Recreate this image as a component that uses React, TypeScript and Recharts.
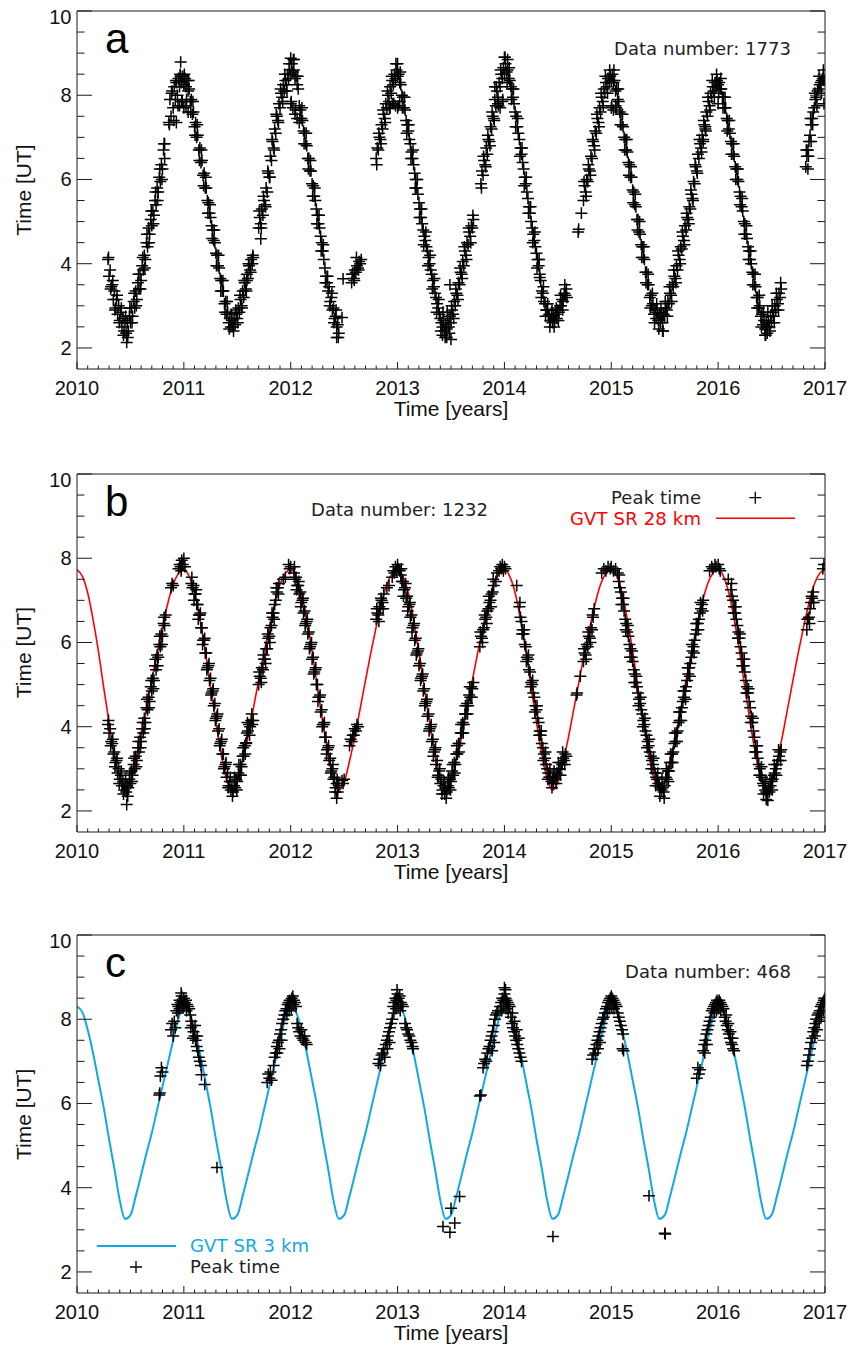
import React from 'react';
import { ComposedChart, Scatter, Line, XAxis, YAxis } from 'recharts';

// ---------- axes ----------
const X_DOMAIN: [number, number] = [2010, 2017];
const Y_DOMAIN: [number, number] = [1.5, 10];
const YEAR_LABELS = [2010, 2011, 2012, 2013, 2014, 2015, 2016, 2017];
const Y_LABELS = [2, 4, 6, 8, 10];
const X_TICKS = Array.from({ length: 71 }, (_, i) => Math.round((2010 + i * 0.1) * 10) / 10);
const Y_TICKS = Array.from({ length: 17 }, (_, i) => 2 + i * 0.5);

// ---------- panel a : peak time ----------
// runs of samples: [start year, values]; main runs every 0.01 yr, second runs every 0.02 yr
type Seg = [number, number[]];
const A_SEGMENTS: Seg[] = [
  [2010.29, [4.1,3.7,3.85,3.45,3.5,3.15,3.35,2.95,3.15,2.8,3.0,2.65,2.85,2.5,2.7,2.4,2.65,2.35,2.6,2.4,2.75,2.6,2.95,2.75,3.1,2.95,3.35,3.15,3.55,3.4,3.75,3.6,3.95,3.85,4.2,4.1,4.5,4.4,4.85,4.7,5.05,4.9,5.25,5.15,5.5,5.4,5.8,5.7,6.05,5.95,6.35,6.25,6.7,6.5]],
  [2010.86, [7.35,7.9,7.5,8.1,7.7,8.2,7.9,8.3,8.0,8.4,8.2,8.45,8.3,8.45,8.25,8.4,8.2,8.35,8.1,8.15,7.85,7.9,7.55,7.6,7.25,7.35,7.0,7.05,6.7,6.75,6.4,6.45,6.1,6.15,5.8,5.8,5.5,5.45,5.2,5.1,4.9,4.8,4.55,4.5,4.25,4.2,3.95,3.9,3.65,3.6,3.35,3.35,3.05,3.1,2.8,2.85,2.6,2.7,2.5,2.65,2.5,2.7,2.55,2.8,2.7,2.95,2.85,3.15,3.0,3.35,3.2,3.55,3.4,3.75,3.65,3.95,3.85,4.1,4.0,4.15]],
  [2011.70, [4.85,5.1,4.95,5.3,5.15,5.5,5.4,5.8,5.7,6.15,6.05,6.55,6.45,6.9,6.75,7.2,7.1,7.5,7.4,7.8,7.7,8.05,7.95,8.25,8.1,8.35,8.25,8.5,8.4,8.6,8.5,8.75,8.55,8.6,8.4,8.45,8.25,8.15,7.75,7.65,7.45,7.4,7.15,7.1,6.85,6.8,6.5,6.5,6.2,6.2,5.9,5.85,5.6,5.5,5.3,5.15,4.95,4.85,4.65,4.5,4.3,4.1,3.9,3.7,3.55,3.35,3.45,3.1,3.2,2.9,2.95,2.7,2.75,2.5,2.55,2.35]],
  [2012.57, [3.55,3.75,3.65,3.85,3.8,3.95,3.9,4.05,4.0,4.1]],
  [2012.80, [6.5,6.75,6.7,7.0,6.95,7.3,7.2,7.55,7.45,7.8,7.7,8.0,7.85,8.2,8.05,8.35,8.25,8.5,8.4,8.6,8.45,8.5,8.3,8.25,8.0,7.95,7.7,7.65,7.4,7.3,7.15,6.95,6.85,6.65,6.5,6.35,6.15,6.0,5.8,5.65,5.45,5.3,5.1,4.95,4.8,4.65,4.55,4.4,4.3,4.15,4.0,3.85,3.75,3.6,3.45,3.3,3.2,3.05,2.95,2.8,2.7,2.6,2.5,2.65,2.4,2.55,2.45,2.7,2.5,2.75,2.6,2.9,2.8,3.1,3.0,3.3,3.25,3.55,3.5,3.8,3.75,4.05,3.95,4.3,4.2,4.5,4.45,4.75,4.65,4.9,4.85,5.05]],
  [2013.78, [5.9,6.2,6.1,6.45,6.35,6.75,6.6,6.95,6.9,7.25,7.2,7.5,7.45,7.9,7.75,8.1,7.95,8.3,8.2,8.5,8.4,8.65,8.5,8.75,8.55,8.6,8.4,8.35,8.2,8.15,7.95,7.8,7.6,7.5,7.25,7.1,6.95,6.75,6.6,6.4,6.25,6.05,5.9,5.7,5.55,5.35,5.2,5.0,4.85,4.7,4.55,4.4,4.25,4.1,3.95,3.75,3.6,3.35,3.3,3.1,3.05,2.9,2.9,2.75,2.8,2.65,2.75,2.6,2.75,2.65,2.8,2.7,2.9,2.85,3.0,3.0,3.15,3.1,3.3,3.25,3.4]],
  [2014.74, [5.5,5.85,5.7,6.0,5.95,6.25,6.2,6.55,6.5,6.9,6.8,7.15,7.1,7.45,7.35,7.7,7.6,7.95,7.85,8.15,8.05,8.3,8.2,8.4,8.3,8.45,8.35,8.5,8.3,8.35,8.1,8.15,7.9,7.85,7.6,7.55,7.3,7.25,7.0,6.95,6.7,6.65,6.4,6.35,6.05,6.05,5.75,5.7,5.4,5.35,5.05,5.05,4.75,4.7,4.45,4.4,4.15,4.1,3.8,3.8,3.5,3.5,3.2,3.25,3.0,3.05,2.8,2.9,2.7,2.85,2.65,2.8,2.6,2.75,2.6,2.8,2.75,2.95,2.9,3.1,3.05,3.3,3.25,3.5,3.45,3.7,3.65,3.95,3.85,4.2,4.1,4.4,4.35,4.65,4.55,4.9,4.8,5.1,5.05,5.35,5.3,5.65,5.55,5.95,5.9,6.3,6.2,6.6,6.5,6.85,6.75,7.05,6.95,7.3,7.25,7.6,7.5,7.85,7.75,8.05,7.95,8.2,8.1,8.3,8.2,8.35,8.25,8.3,8.15,8.15,7.95,7.95,7.7,7.7,7.45,7.4,7.2,7.1,6.9,6.85,6.6,6.55,6.3,6.25,6.0,5.95,5.7,5.6,5.35,5.25,5.0,4.95,4.7,4.6,4.4,4.3,4.1,4.0,3.8,3.75,3.5,3.45,3.2,3.2,2.95,3.0,2.75,2.8,2.55,2.65,2.45,2.6,2.5,2.65,2.5,2.75,2.6,2.85,2.75,3.0,2.9,3.15,3.05,3.3,3.2,3.4]],
  [2016.82, [6.3,6.55,6.7,6.9,7.05,7.3,7.45,7.6,7.7,7.9,7.95,8.1,8.15,8.25,8.3,8.35,8.4,8.35]],
];
const A_SEGMENTS_2: Seg[] = [
  [2010.295, [4.15,3.4,3.6,2.9,3.25,2.6,2.95,2.3,2.75,2.25,2.95,2.6,3.3,3.0,3.75,3.4,4.15,3.9,4.7,4.5,5.25,4.95,5.7,5.5,6.25,6.0,6.85]],
  [2010.865, [7.3,8.05,7.4,8.35,7.75,8.5,7.85,8.5,7.9,8.35,7.6,7.85,7.05,7.3,6.45,6.7,5.85,6.05,5.2,5.4,4.6,4.8,3.95,4.2,3.35,3.6,2.85,3.1,2.45,2.8,2.4,2.9,2.6,3.25,2.95,3.6,3.35,4.0,3.8,4.2]],
  [2011.705, [5.25,4.85,5.6,5.35,6.2,6.05,6.95,6.7,7.55,7.35,8.15,7.85,8.5,8.1,8.75,7.85,8.85,7.65,8.45,7.45,7.7,6.85,7.1,6.25,6.45,5.6,5.8,4.95,5.15,4.3,4.45,3.55,3.7,3.0,3.3,2.6,2.9,2.25]],
  [2012.805, [6.35,7.1,6.85,7.65,7.35,8.1,7.7,8.45,7.8,8.75,7.75,8.55,7.7,7.95,7.1,7.3,6.5,6.7,5.8,6.0,5.1,5.3,4.45,4.75,3.95,4.2,3.4,3.65,2.85,3.15,2.4,2.85,2.25,2.85,2.35,3.0,2.7,3.4,3.15,3.9,3.65,4.4,4.1,4.85,4.5,5.15]],
  [2013.785, [5.8,6.55,6.3,7.05,6.8,7.6,7.4,8.2,7.75,8.6,7.9,8.9,8.3,8.65,7.9,8.15,7.25,7.45,6.55,6.75,5.85,6.05,5.2,5.35,4.5,4.75,3.9,4.1,3.2,3.45,2.75,3.05,2.5,2.9,2.5,2.95,2.65,3.25,2.9,3.5,3.2]],
  [2014.745, [5.95,5.6,6.35,6.1,6.95,6.7,7.55,7.25,8.05,7.75,8.45,8.05,8.6,7.75,8.6,7.7,8.15,7.3,7.55,6.7,6.95,6.1,6.3,5.45,5.65,4.8,5.0,4.15,4.4,3.55,3.75,2.95,3.3,2.6,3.05,2.45,2.95,2.4,3.1,2.75,3.45,3.1,3.85,3.55,4.3,4.0,4.75,4.45,5.2,4.95,5.75,5.5,6.35,6.15,6.95,6.65,7.4,7.15,7.95,7.65,8.35,7.95,8.5,8.05,8.4,7.7,7.95,7.15,7.4,6.6,6.85,6.0,6.25,5.4,5.55,4.7,4.9,4.1,4.3,3.5,3.75,2.95,3.25,2.5,2.85,2.3,2.85,2.4,3.0,2.6,3.3,2.9,3.55]],
  [2016.825, [6.7,6.55,7.45,7.3,8.05,7.75,8.45,8.05,8.6]],
];
const A_EXTRA: [number, number][] = [
  [2010.465,2.13],[2010.82,6.85],[2010.93,7.35],[2010.96,7.75],[2010.98,7.85],[2011.0,7.7],[2011.02,7.75],[2011.04,7.6],[2010.97,8.79],[2011.59,3.6],
  [2011.72,4.59],[2012.0,8.88],[2012.03,8.85],[2012.0,7.8],[2012.02,7.7],[2012.04,7.55],[2012.06,7.45],[2012.08,7.35],[2012.43,2.25],[2012.48,2.72],[2012.49,3.64],
  [2012.575,3.75],[2012.595,3.6],[2012.615,4.15],[2012.635,3.85],
  [2012.93,7.7],[2012.95,7.8],[2012.98,7.75],[2013.0,7.7],[2013.02,7.85],[2013.0,8.75],[2013.46,2.25],[2013.5,2.2],[2013.49,3.5],[2013.42,2.3],
  [2013.91,8.2],[2013.94,7.8],[2013.96,7.7],[2013.98,7.85],[2014.0,8.9],[2014.03,8.85],[2014.33,3.67],[2014.69,4.75],[2014.695,4.82],[2014.72,5.2],
  [2015.0,7.7],[2015.02,7.65],[2015.04,7.75],[2015.48,2.4],[2015.86,6.9],[2015.88,7.2],[2016.0,7.8],[2016.44,2.3],[2016.46,2.35],
  [2016.99,7.8],[2016.84,6.25],[2016.87,6.9],
];

// ---------- panel b : peak time ----------
const B_SEGMENTS: Seg[] = [
  [2010.29, [4.05,3.85,3.95,3.65,3.6,3.35,3.4,3.15,3.2,2.9,3.0,2.75,2.85,2.6,2.7,2.5,2.6,2.45,2.6,2.55,2.75,2.65,2.95,2.85,3.1,3.0,3.3,3.2,3.5,3.4,3.75,3.65,3.95,3.85,4.2,4.1,4.45,4.4,4.7,4.6,4.95,4.85,5.15,5.1,5.45,5.35,5.7,5.65,5.95,5.9,6.2,6.15,6.45,6.4,6.65]],
  [2011.07, [7.4,7.3,7.35,7.15,7.15,6.9,6.9,6.65,6.65,6.35,6.35,6.05,6.05,5.75,5.75,5.4,5.45,5.1,5.15,4.8,4.85,4.5,4.55,4.2,4.25,3.9,3.95,3.6,3.65,3.35,3.35,3.05,3.1,2.8,2.9,2.6,2.7,2.5,2.6,2.45,2.6,2.55,2.75,2.7,2.9,2.85,3.1,3.05,3.3,3.3,3.55,3.6,3.85,3.9,4.05,4.0,4.15,4.05,4.15]],
  [2011.70, [5.0,5.2,5.15,5.4,5.35,5.6,5.6,5.85,5.85,6.1,6.15,6.35,6.4,6.6,6.7,6.9,7.0,7.2,7.3,7.4]],
  [2012.03, [7.65,7.5,7.55,7.35,7.35,7.15,7.2,6.95,7.0,6.7,6.75,6.45,6.5,6.2,6.25,5.9,5.95,5.6,5.65,5.3,5.35,5.0,5.0,4.7,4.7,4.35,4.4,4.05,4.05,3.75,3.75,3.45,3.5,3.2,3.25,2.95,3.0,2.75,2.8,2.55,2.65,2.45,2.6]],
  [2012.55, [3.55,3.7,3.65,3.8,3.8,3.95,3.9,4.05,4.0]],
  [2012.80, [6.55,6.7,6.65,6.85,6.8,7.0,6.95,7.15]],
  [2013.03, [7.6,7.45,7.45,7.25,7.3,7.05,7.1,6.85,6.9,6.6,6.65,6.35,6.4,6.05,6.1,5.75,5.8,5.45,5.5,5.15,5.2,4.85,4.9,4.55,4.6,4.25,4.3,3.95,4.0,3.65,3.7,3.4,3.45,3.1,3.2,2.85,2.95,2.65,2.75,2.5,2.6,2.4,2.55,2.45,2.6,2.55,2.75,2.7,2.95,2.85,3.15,3.1,3.35,3.35,3.6,3.6,3.85,3.85,4.1,4.05,4.3,4.3,4.55,4.5,4.75,4.7,4.95,4.9,5.05]],
  [2013.77, [5.9,6.15,6.1,6.3,6.35,6.55,6.6,6.75,6.8,6.95,7.0,7.15,7.2,7.35]],
  [2014.14, [6.85,6.6,6.5,6.3,6.2,5.95,5.9,5.65,5.6,5.35,5.3,5.05,5.0,4.8,4.7,4.5,4.4,4.2,4.1,3.9,3.8,3.6,3.5,3.35,3.25,3.1,3.0,2.9,2.8,2.8,2.7,2.75,2.65,2.8,2.75,2.9,2.85,3.0,3.0,3.15,3.1,3.25,3.2,3.35,3.3]],
  [2014.74, [5.55,5.75,5.7,5.95,5.9,6.15,6.1,6.35,6.3,6.6]],
  [2015.07, [7.45,7.3,7.2,7.05,6.9,6.75,6.55,6.45,6.25,6.15,5.95,5.85,5.65,5.55,5.35,5.25,5.05,4.95,4.8,4.65,4.55,4.4,4.3,4.15,4.05,3.9,3.8,3.65,3.55,3.4,3.3,3.2,3.1,3.0,2.9,2.8,2.75,2.65,2.6,2.55,2.5,2.55,2.45,2.6,2.8,2.75,2.95,2.95,3.15,3.15,3.35,3.4,3.6,3.65,3.85,3.9,4.1,4.15,4.35,4.45,4.6,4.7,4.85,4.95,5.1,5.25,5.4,5.5,5.65,5.8,5.9,6.05,6.2,6.3,6.45,6.55,6.7,6.8,6.9,7.0]],
  [2016.12, [7.25,7.1,7.0,6.85,6.7,6.55,6.4,6.25,6.1,5.9,5.75,5.6,5.45,5.3,5.1,4.95,4.8,4.6,4.45,4.25,4.1,3.9,3.75,3.55,3.4,3.25,3.1,3.0,2.85,2.8,2.65,2.6,2.5,2.45,2.4,2.55,2.45,2.6,2.7,2.75,2.85,2.9,3.0,3.1,3.2,3.3,3.4,3.45]],
  [2016.83, [6.3,6.55,6.6,6.8,6.95,7.05,7.2]],
];
const B_SEGMENTS_2: Seg[] = [
  [2010.295, [4.15,3.55,3.7,3.05,3.25,2.65,2.95,2.4,2.75,2.35,2.9,2.7,3.25,3.05,3.65,3.5,4.1,3.95,4.65,4.45,5.1,4.9,5.6,5.45,6.15,5.95,6.6]],
  [2011.075, [7.55,7.0,7.25,6.55,6.7,5.95,6.1,5.35,5.5,4.75,4.9,4.15,4.3,3.55,3.7,3.0,3.15,2.55,2.8,2.35,2.8,2.5,3.1,2.85,3.5,3.35,4.1,3.8,4.3]],
  [2011.705, [5.3,5.05,5.7,5.5,6.2,6.0,6.7,6.55,7.3,7.15]],
  [2012.035, [7.8,7.25,7.45,6.85,7.05,6.4,6.55,5.85,6.0,5.25,5.4,4.6,4.75,4.0,4.1,3.35,3.55,2.9,3.1,2.45,2.75]],
  [2012.805, [6.8,6.5,7.05,6.8]],
  [2013.035, [7.75,7.1,7.4,6.75,6.95,6.25,6.45,5.7,5.85,5.1,5.25,4.5,4.65,3.9,4.05,3.3,3.5,2.8,3.0,2.4,2.7,2.3,2.8,2.5,3.1,2.9,3.55,3.4,4.05,3.85,4.5,4.3,4.95,4.7]],
  [2013.775, [6.25,6.0,6.65,6.45,7.1,6.85,7.5]],
  [2014.145, [6.95,6.2,6.3,5.55,5.7,4.95,5.1,4.35,4.5,3.8,3.9,3.2,3.4,2.75,3.0,2.55,2.95,2.65,3.15,2.85,3.4,3.1]],
  [2014.745, [5.85,5.6,6.25,6.0,6.65]],
  [2015.075, [7.6,6.9,7.05,6.3,6.4,5.65,5.8,5.05,5.2,4.5,4.7,4.0,4.2,3.5,3.7,3.0,3.25,2.6,2.9,2.35,2.75,2.3,3.0,2.7,3.35,3.15,3.85,3.65,4.35,4.15,4.85,4.65,5.4,5.2,5.95,5.75,6.45,6.3,6.95,6.75]],
  [2016.125, [7.4,6.7,6.85,6.1,6.2,5.45,5.6,4.8,4.9,4.1,4.2,3.4,3.55,2.85,3.05,2.4,2.7,2.25,2.75,2.5,3.1,2.85,3.45,3.2]],
  [2016.835, [6.55,6.45,7.1,6.95]],
];
const B_EXTRA: [number, number][] = [
  [2010.465,2.15],[2010.88,7.3],[2010.89,7.4],[2010.9,7.35],[2010.95,7.75],[2010.96,7.85],[2010.97,7.8],[2010.98,7.95],[2010.99,7.85],[2011.0,8.0],[2011.01,7.8],[2010.975,7.7],
  [2011.585,3.62],[2011.93,7.5],[2011.95,7.55],[2011.98,7.85],[2011.99,7.75],[2012.0,7.8],
  [2012.43,2.3],[2012.48,2.72],[2012.5,2.75],[2012.49,2.65],
  [2012.9,7.3],[2012.92,7.35],[2012.95,7.55],[2012.96,7.7],[2012.97,7.65],[2012.98,7.8],[2012.99,7.7],[2013.0,7.85],[2013.01,7.75],[2013.02,7.7],
  [2013.92,7.45],[2013.93,7.65],[2013.95,7.7],[2013.96,7.8],[2013.97,7.75],[2013.98,7.85],[2013.99,7.7],[2014.0,7.8],[2014.01,7.75],[2014.115,7.35],
  [2014.675,4.75],[2014.68,4.8],[2014.71,5.2],
  [2014.84,6.8],[2014.91,7.65],[2014.93,7.75],[2014.95,7.7],[2014.97,7.8],[2014.99,7.75],[2015.0,7.8],[2015.02,7.7],[2015.04,7.75],[2015.06,7.65],
  [2015.92,7.7],[2015.94,7.8],[2015.95,7.75],[2015.97,7.85],[2015.98,7.8],[2016.0,7.85],[2016.01,7.75],[2016.02,7.7],[2016.095,7.5],
  [2016.45,2.27],[2016.98,7.75],[2016.99,7.85],
];

// ---------- panel c : peak time ----------
const C_POINTS: [number, number][] = [
  [2010.77,6.2],[2010.775,6.25],[2010.78,6.65],[2010.79,6.85],[2010.8,6.75],
  [2010.88,7.75],[2010.89,7.9],[2010.9,7.6],[2010.91,7.95],[2010.92,7.8],
  [2010.93,8.2],[2010.94,8.35],[2010.95,8.3],[2010.96,8.45],[2010.97,8.4],[2010.98,8.55],[2010.99,8.4],[2011.0,8.5],[2011.01,8.4],[2011.02,8.45],[2011.03,8.35],[2011.04,8.3],[2011.05,8.25],[2010.975,8.62],[2011.0,8.3],[2010.96,8.25],
  [2011.06,8.1],[2011.07,7.95],[2011.08,7.85],[2011.09,7.7],[2011.1,7.6],[2011.11,7.5],[2011.12,7.35],[2011.13,7.25],[2011.14,7.1],[2011.15,7.0],[2011.16,6.9],[2011.165,6.68],[2011.195,6.45],[2011.31,4.48],
  [2011.065,7.8],[2011.085,7.55],[2011.105,7.85],[2011.125,7.6],[2010.945,8.15],[2010.985,8.3],[2011.025,8.2],
  [2011.78,6.5],[2011.79,6.7],[2011.8,6.6],[2011.81,6.75],[2011.82,6.55],
  [2011.84,6.9],[2011.85,7.1],[2011.86,7.2],[2011.87,7.35],[2011.88,7.45],[2011.89,7.5],
  [2011.9,7.65],[2011.91,7.75],[2011.92,7.9],[2011.93,8.0],[2011.94,8.1],[2011.95,8.2],
  [2011.96,8.25],[2011.97,8.35],[2011.98,8.4],[2011.99,8.45],[2012.0,8.4],[2012.01,8.5],[2012.02,8.55],[2012.03,8.45],[2012.04,8.4],[2012.05,8.3],
  [2011.965,8.1],[2011.985,8.2],[2012.005,8.25],[2012.025,8.35],[2011.875,7.2],[2011.895,7.3],[2011.915,7.5],
  [2012.06,7.9],[2012.07,7.8],[2012.08,7.7],[2012.09,7.6],[2012.1,7.75],[2012.11,7.55],[2012.12,7.5],[2012.13,7.6],[2012.14,7.45],[2012.15,7.4],
  [2012.82,6.95],[2012.83,7.05],[2012.84,6.9],[2012.85,7.15],[2012.86,7.2],[2012.87,7.3],[2012.88,7.1],[2012.89,7.4],
  [2012.9,7.5],[2012.91,7.6],[2012.92,7.7],[2012.93,7.8],[2012.94,7.9],[2012.95,8.0],
  [2012.96,8.3],[2012.97,8.4],[2012.98,8.5],[2012.99,8.45],[2013.0,8.6],[2013.01,8.5],[2013.02,8.55],[2013.03,8.4],[2013.04,8.35],[2013.05,8.3],[2012.995,8.7],
  [2012.965,8.15],[2012.985,8.25],[2013.005,8.3],[2013.025,8.2],[2012.905,7.3],[2012.925,7.45],
  [2013.07,7.9],[2013.08,7.8],[2013.09,7.75],[2013.1,7.65],[2013.11,7.6],[2013.12,7.5],[2013.13,7.45],[2013.14,7.35],[2013.145,7.3],
  [2013.425,3.08],[2013.49,2.94],[2013.5,3.51],[2013.535,3.16],[2013.58,3.79],
  [2013.77,6.18],[2013.78,6.2],
  [2013.8,6.85],[2013.81,6.95],[2013.82,7.05],[2013.83,7.0],[2013.84,7.2],[2013.85,7.3],[2013.86,7.35],[2013.87,7.5],[2013.88,7.6],[2013.89,7.7],[2013.9,7.85],[2013.91,8.0],[2013.92,8.1],[2013.93,8.15],[2013.94,8.2],
  [2013.96,8.3],[2013.97,8.4],[2013.98,8.5],[2013.99,8.45],[2014.0,8.6],[2014.01,8.5],[2014.02,8.45],[2014.03,8.4],[2014.04,8.35],[2014.05,8.3],[2014.0,8.75],[2014.01,8.7],
  [2013.975,8.2],[2013.995,8.3],[2014.015,8.25],[2014.035,8.15],[2013.885,7.25],[2013.905,7.45],
  [2014.06,8.05],[2014.07,7.9],[2014.08,7.8],[2014.09,7.7],[2014.1,7.6],[2014.11,7.5],[2014.12,7.4],[2014.13,7.3],[2014.14,7.2],[2014.15,7.1],[2014.16,7.0],
  [2014.075,8.15],[2014.095,7.95],[2014.115,7.75],[2014.135,7.55],
  [2014.454,2.84],
  [2014.82,7.05],[2014.83,7.15],[2014.84,7.3],[2014.85,7.2],[2014.86,7.4],[2014.87,7.5],[2014.88,7.6],[2014.89,7.7],[2014.9,7.8],[2014.91,7.9],[2014.92,8.0],[2014.93,8.05],[2014.94,8.15],
  [2014.95,8.25],[2014.96,8.3],[2014.97,8.4],[2014.98,8.45],[2014.99,8.5],[2015.0,8.55],[2015.01,8.5],[2015.02,8.45],[2015.03,8.4],[2015.04,8.35],[2015.05,8.3],
  [2014.965,8.15],[2014.985,8.25],[2015.005,8.3],[2015.025,8.25],[2014.875,7.3],[2014.895,7.45],
  [2015.06,8.15],[2015.07,8.05],[2015.08,7.95],[2015.09,7.85],[2015.1,7.75],[2015.11,7.65],[2015.105,7.3],[2015.115,7.25],
  [2015.353,3.81],[2015.5,2.92],[2015.505,2.9],
  [2015.8,6.6],[2015.81,6.85],[2015.82,6.7],[2015.83,6.8],
  [2015.86,7.25],[2015.87,7.4],[2015.88,7.5],[2015.89,7.65],[2015.9,7.75],[2015.91,7.85],[2015.92,7.95],[2015.93,8.05],
  [2015.94,8.2],[2015.95,8.25],[2015.96,8.3],[2015.97,8.35],[2015.98,8.4],[2015.99,8.45],[2016.0,8.4],[2016.01,8.45],[2016.02,8.4],[2016.03,8.35],[2016.04,8.3],[2016.05,8.25],
  [2015.965,8.15],[2015.985,8.2],[2016.005,8.25],[2016.025,8.2],[2015.875,7.2],[2015.895,7.4],
  [2016.06,8.05],[2016.07,7.95],[2016.08,7.85],[2016.09,7.75],[2016.1,7.65],[2016.11,7.55],[2016.12,7.45],[2016.13,7.4],[2016.14,7.3],[2016.15,7.25],
  [2016.075,8.1],[2016.095,7.9],[2016.115,7.7],[2016.135,7.55],
  [2016.83,6.9],[2016.84,7.0],[2016.85,7.15],[2016.86,7.3],[2016.87,7.45],[2016.88,7.55],[2016.89,7.7],[2016.9,7.8],[2016.91,7.9],[2016.92,8.0],[2016.93,8.1],[2016.94,8.15],[2016.95,8.2],[2016.96,8.3],[2016.97,8.35],[2016.98,8.4],[2016.99,8.45],[2017.0,8.5],
  [2016.905,7.6],[2016.925,7.75],[2016.945,7.95],[2016.965,8.05],[2016.985,8.2],
];

// ---------- model curves, sampled every 0.05 yr from 2010.00 ----------
const CURVE_STEP = 0.05;
const GVT_28KM = [
  7.73,7.57,7.18,6.55,5.8,4.93,4.1,3.34,2.76,2.49,2.68,3.18,3.76,4.43,5.1,5.76,6.37,6.93,7.38,7.64,
  7.73,7.57,7.18,6.55,5.8,4.93,4.1,3.34,2.76,2.49,2.68,3.18,3.76,4.43,5.1,5.76,6.37,6.93,7.38,7.64,
  7.73,7.57,7.18,6.55,5.8,4.93,4.1,3.34,2.76,2.49,2.68,3.18,3.76,4.43,5.1,5.76,6.37,6.93,7.38,7.64,
  7.73,7.57,7.18,6.55,5.8,4.93,4.1,3.34,2.76,2.49,2.68,3.18,3.76,4.43,5.1,5.76,6.37,6.93,7.38,7.64,
  7.73,7.57,7.18,6.55,5.8,4.93,4.1,3.34,2.76,2.49,2.68,3.18,3.76,4.43,5.1,5.76,6.37,6.93,7.38,7.64,
  7.73,7.57,7.18,6.55,5.8,4.93,4.1,3.34,2.76,2.49,2.68,3.18,3.76,4.43,5.1,5.76,6.37,6.93,7.38,7.64,
  7.73,7.57,7.18,6.55,5.8,4.93,4.1,3.34,2.76,2.49,2.68,3.18,3.76,4.43,5.1,5.76,6.37,6.93,7.38,7.64,
  7.73,
];
const GVT_3KM = [
  8.3,8.17,7.75,7.2,6.55,5.9,5.15,4.45,3.7,3.26,3.35,3.8,4.3,4.82,5.3,5.85,6.4,6.95,7.5,8.02,
  8.3,8.17,7.75,7.2,6.55,5.9,5.15,4.45,3.7,3.26,3.35,3.8,4.3,4.82,5.3,5.85,6.4,6.95,7.5,8.02,
  8.3,8.17,7.75,7.2,6.55,5.9,5.15,4.45,3.7,3.26,3.35,3.8,4.3,4.82,5.3,5.85,6.4,6.95,7.5,8.02,
  8.3,8.17,7.75,7.2,6.55,5.9,5.15,4.45,3.7,3.26,3.35,3.8,4.3,4.82,5.3,5.85,6.4,6.95,7.5,8.02,
  8.3,8.17,7.75,7.2,6.55,5.9,5.15,4.45,3.7,3.26,3.35,3.8,4.3,4.82,5.3,5.85,6.4,6.95,7.5,8.02,
  8.3,8.17,7.75,7.2,6.55,5.9,5.15,4.45,3.7,3.26,3.35,3.8,4.3,4.82,5.3,5.85,6.4,6.95,7.5,8.02,
  8.3,8.17,7.75,7.2,6.55,5.9,5.15,4.45,3.7,3.26,3.35,3.8,4.3,4.82,5.3,5.85,6.4,6.95,7.5,8.02,
  8.3,
];

type Pt = { x: number; y: number };
function runs(segs: Seg[], step: number): Pt[] {
  const pts: Pt[] = [];
  segs.forEach(([start, vals]) => vals.forEach((v, i) => pts.push({ x: Math.round((start + i * step) * 1000) / 1000, y: v })));
  return pts;
}
const pairs = (list: [number, number][]): Pt[] => list.map(([x, y]) => ({ x, y }));
const curveFrom = (vals: number[]): Pt[] => vals.map((y, i) => ({ x: Math.round((2010 + i * CURVE_STEP) * 100) / 100, y }));

const A_PTS = [...runs(A_SEGMENTS, 0.01), ...runs(A_SEGMENTS_2, 0.02), ...pairs(A_EXTRA)];
const B_PTS = [...runs(B_SEGMENTS, 0.01), ...runs(B_SEGMENTS_2, 0.02), ...pairs(B_EXTRA)];
const C_PTS = pairs(C_POINTS);
const B_CURVE = curveFrom(GVT_28KM);
const C_CURVE = curveFrom(GVT_3KM);

// ---------- styling ----------
const SANS = "'Liberation Sans', Arial, Helvetica, sans-serif";
const HERSHEY = "'DejaVu Sans', sans-serif";
const AXIS_COLOR = '#1a1a1a';
const RED = '#ff0000';
const BLUE = '#12a8e6';
const AXIS_LINE = { stroke: AXIS_COLOR, strokeWidth: 1 };

const isMajorX = (v: number) => Math.abs(v - Math.round(v)) < 1e-6;
const isMajorY = (v: number) => Math.abs(v / 2 - Math.round(v / 2)) < 1e-6;

function BottomTick(p: any) {
  const { x, y, payload } = p;
  const v = payload.value;
  const major = isMajorX(v);
  return (
    <g>
      <line x1={x} x2={x} y1={y} y2={y - (major ? 7 : 3.5)} stroke={AXIS_COLOR} strokeWidth={1} />
      {major && YEAR_LABELS.includes(Math.round(v)) && (
        <text x={x} y={y + 25.5} textAnchor="middle" fontSize={20} fontFamily={SANS} fill="#111">{Math.round(v)}</text>
      )}
    </g>
  );
}
function TopTick(p: any) {
  const { x, y, payload } = p;
  const major = isMajorX(payload.value);
  return <line x1={x} x2={x} y1={y} y2={y + (major ? 7 : 3.5)} stroke={AXIS_COLOR} strokeWidth={1} />;
}
function LeftTick(p: any) {
  const { x, y, payload } = p;
  const v = payload.value;
  const major = isMajorY(v);
  return (
    <g>
      <line x1={x} x2={x + (major ? 15 : 7.5)} y1={y} y2={y} stroke={AXIS_COLOR} strokeWidth={1} />
      {major && Y_LABELS.includes(Math.round(v)) && (
        <text x={x - 5.5} y={y + 7 + (v === 10 ? 5.5 : 0)} textAnchor="end" fontSize={20} fontFamily={SANS} fill="#111">{Math.round(v)}</text>
      )}
    </g>
  );
}
function RightTick(p: any) {
  const { x, y, payload } = p;
  const major = isMajorY(payload.value);
  return <line x1={x} x2={x - (major ? 15 : 7.5)} y1={y} y2={y} stroke={AXIS_COLOR} strokeWidth={1} />;
}

const renderPlus = (p: any) => {
  const { cx, cy } = p;
  if (!Number.isFinite(cx) || !Number.isFinite(cy)) return <g />;
  return <path d={`M${cx - 6} ${cy}H${cx + 6}M${cx} ${cy - 5.8}V${cy + 5.8}`} stroke="#000" strokeWidth={1.5} fill="none" />;
};

function Panel({ top, points, curve, color, width }: { top: number; points: Pt[]; curve?: Pt[]; color?: string; width?: number }) {
  return (
    <div style={{ position: 'absolute', left: 0, top }}>
      <ComposedChart width={857} height={460} margin={{ top: 10, right: 31, bottom: 0, left: 0 }}>
        <XAxis xAxisId="b" dataKey="x" type="number" domain={X_DOMAIN} allowDataOverflow ticks={X_TICKS} interval={0}
          height={91} tickSize={0} tickMargin={0} tickLine={false} axisLine={AXIS_LINE} tick={BottomTick} />
        <XAxis xAxisId="t" orientation="top" type="number" domain={X_DOMAIN} allowDataOverflow ticks={X_TICKS} interval={0}
          height={1} tickSize={0} tickMargin={0} tickLine={false} axisLine={AXIS_LINE} tick={TopTick} />
        <YAxis yAxisId="l" dataKey="y" type="number" domain={Y_DOMAIN} allowDataOverflow ticks={Y_TICKS} interval={0}
          width={77} tickSize={0} tickMargin={0} tickLine={false} axisLine={AXIS_LINE} tick={LeftTick} />
        <YAxis yAxisId="r" orientation="right" type="number" domain={Y_DOMAIN} allowDataOverflow ticks={Y_TICKS} interval={0}
          width={1} tickSize={0} tickMargin={0} tickLine={false} axisLine={AXIS_LINE} tick={RightTick} />
        <Scatter xAxisId="b" yAxisId="l" data={points} shape={renderPlus} isAnimationActive={false} />
        {curve && (
          <Line xAxisId="b" yAxisId="l" data={curve} dataKey="y" type="monotone" dot={false} activeDot={false}
            stroke={color} strokeWidth={width} isAnimationActive={false} />
        )}
      </ComposedChart>
    </div>
  );
}

function PlusMark({ x, y }: { x: number; y: number }) {
  return <path d={`M${x - 6} ${y}H${x + 6}M${x} ${y - 6}V${y + 6}`} stroke="#000" strokeWidth={1.3} fill="none" />;
}

function Labels() {
  const offs = [0, 462.5, 924.3];
  const letters = ['a', 'b', 'c'];
  return (
    <svg width={857} height={1347} style={{ position: 'absolute', left: 0, top: 0, pointerEvents: 'none' }}>
      {offs.map((o, i) => (
        <g key={i}>
          <text x={105} y={53 + o} fontSize={42} fontFamily={SANS} fill="#000">{letters[i]}</text>
          <text x={451} y={416 + o} textAnchor="middle" fontSize={21} fontFamily={SANS} fill="#111">Time [years]</text>
          <text transform={`translate(31,${190 + o}) rotate(-90)`} textAnchor="middle" fontSize={21} fontFamily={SANS} fill="#111">Time [UT]</text>
        </g>
      ))}
      <text x={614} y={55} fontSize={18} fontFamily={HERSHEY} fill="#222" textLength={177} lengthAdjust="spacing">Data number: 1773</text>
      <text x={311} y={515.5} fontSize={18} fontFamily={HERSHEY} fill="#222" textLength={177} lengthAdjust="spacing">Data number: 1232</text>
      <text x={625} y={977.7} fontSize={18} fontFamily={HERSHEY} fill="#222" textLength={166} lengthAdjust="spacing">Data number: 468</text>
      {/* legend b */}
      <text x={611} y={504} fontSize={18} fontFamily={HERSHEY} fill="#222" textLength={90} lengthAdjust="spacing">Peak time</text>
      <PlusMark x={755.3} y={497.7} />
      <text x={570} y={525} fontSize={18} fontFamily={HERSHEY} fill={RED} textLength={131} lengthAdjust="spacing">GVT SR 28 km</text>
      <line x1={716} x2={795} y1={518.3} y2={518.3} stroke={RED} strokeWidth={1.5} />
      {/* legend c */}
      <line x1={97} x2={176} y1={1246} y2={1246} stroke={BLUE} strokeWidth={2} />
      <text x={190} y={1252} fontSize={18} fontFamily={HERSHEY} fill={BLUE} textLength={119} lengthAdjust="spacing">GVT SR 3 km</text>
      <PlusMark x={136} y={1267} />
      <text x={190} y={1273} fontSize={18} fontFamily={HERSHEY} fill="#222" textLength={90} lengthAdjust="spacing">Peak time</text>
    </svg>
  );
}

export default function App() {
  return (
    <div style={{ position: 'absolute', left: 0, top: 0, width: 857, height: 1347, background: '#fff', overflow: 'hidden' }}>
      <Panel top={0} points={A_PTS} />
      <Panel top={462.5} points={B_PTS} curve={B_CURVE} color={RED} width={1.6} />
      <Panel top={924.3} points={C_PTS} curve={C_CURVE} color={BLUE} width={2} />
      <Labels />
    </div>
  );
}
